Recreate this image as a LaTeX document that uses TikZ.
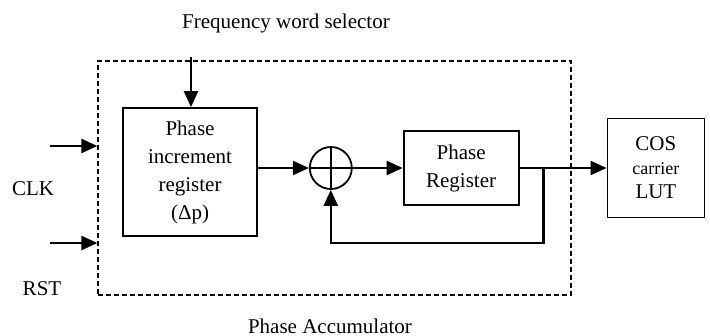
\documentclass[tikz,border=0pt]{standalone}
\usepackage{fontspec}
\setmainfont{Liberation Serif}
\usetikzlibrary{arrows.meta,positioning}

\begin{document}
\begin{tikzpicture}[
    x=0.5pt, y=-0.5pt,
    every node/.style={font=\fontsize{10.5}{14}\selectfont},
    block/.style={draw, line width=0.9pt, align=center, inner sep=0pt},
    arrow/.style={-{Triangle[length=8pt, width=7pt]}, line width=1.2pt},
    group/.style={draw, dash pattern=on 2.5pt off 1.5pt, line width=0.6pt, inner sep=0pt}
]
\useasboundingbox (0,0) rectangle (710,336);

% Phase accumulator frame
\node[group, minimum width=236.5pt, minimum height=117pt] (acc) at (334.5,178) {};
\node (acclabel) at (330,326) {Phase Accumulator};

% Blocks
\node[block, minimum width=67pt, minimum height=64pt] (inc) at (190,172)
    {Phase\\increment\\register\\(Δp)};
\node[circle, draw, line width=0.9pt, minimum size=21pt, inner sep=0pt,
      right=25.5pt of inc, yshift=2pt] (sum) {};
\draw[line width=0.9pt] (sum.north) -- (sum.south) (sum.west) -- (sum.east);
\node[block, minimum width=57.5pt, minimum height=37pt, right=25pt of sum] (reg)
    {Phase\\Register};
\node[block, minimum width=48.5pt, minimum height=49.5pt, right=43.5pt of reg,
      font=\fontsize{10.5}{12}\selectfont] (cos)
    {COS\\{\fontsize{9}{12}\selectfont carrier}\\LUT};

% Inputs
\node (fws) at (286,23) {Frequency word selector};
\coordinate (fwin) at (191,57);
\draw[arrow] (fwin) -- (fwin |- inc.north);

\coordinate (clkin) at (50,146);
\coordinate (rstin) at (50,243);
\draw[arrow] (clkin) -- (clkin -| acc.west);
\draw[arrow] (rstin) -- (rstin -| acc.west);
\node (clk) at (33,189) {CLK};
\node (rst) at (42,289) {RST};

% Data path
\draw[arrow] (inc.east |- sum.west) -- (sum.west);
\draw[arrow] (sum.east) -- (sum.east -| reg.west);
\draw[arrow] (sum.east -| reg.east) -- (sum.east -| cos.west);

% Feedback
\coordinate[right=12pt of reg.east |- sum.east] (tap);
\coordinate[below=37.5pt of tap] (fb);
\draw[arrow] (tap) -- (fb) -| (sum.south);
\end{tikzpicture}
\end{document}
